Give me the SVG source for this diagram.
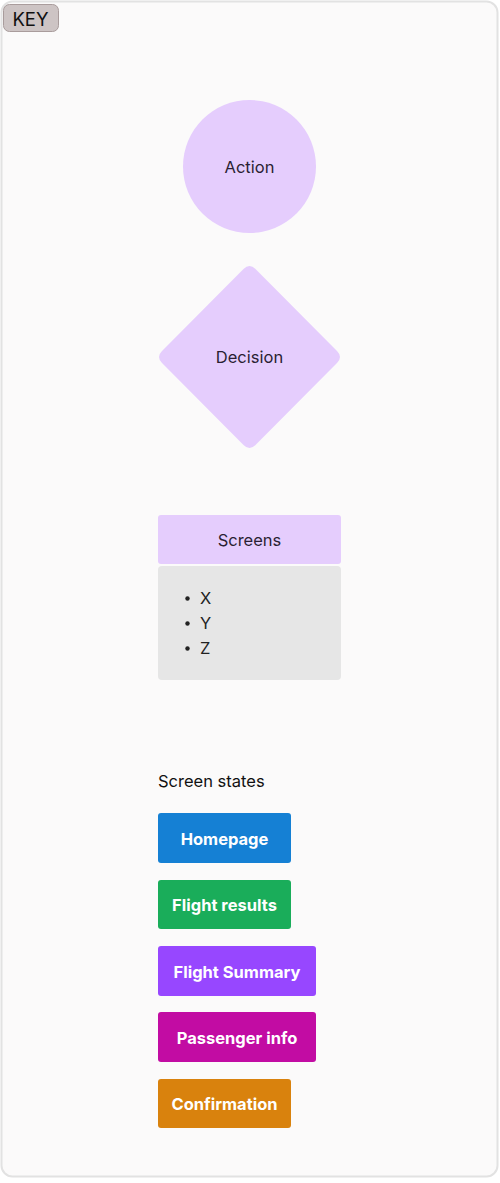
<svg xmlns="http://www.w3.org/2000/svg" width="500" height="1183" viewBox="0 0 500 1183">
<style>
.lbl{font-family:Inter,"Noto Sans",sans-serif;font-size:16.5px;fill:#2b1f33;text-anchor:middle;dominant-baseline:central}
.shape{fill:#e5cdfd}
.btn{font-family:Inter,"Noto Sans",sans-serif;font-size:16.5px;font-weight:700;fill:#ffffff;text-anchor:middle;dominant-baseline:central}
.li{font-family:Inter,"Noto Sans",sans-serif;font-size:16.5px;fill:#222222}
</style>
<rect x="1.5" y="1.5" width="496" height="1175" rx="11" fill="#fbfafa" stroke="#e2e2e2" stroke-width="2"/>
<g id="key">
<rect x="3.5" y="4.5" width="55" height="27" rx="6" fill="#cdc4c4" stroke="#a99c9c" stroke-width="1"/>
<text x="30.5" y="18.5" font-family="Inter,'Noto Sans',sans-serif" font-size="18.5" fill="#111" text-anchor="middle" dominant-baseline="central">KEY</text>
</g>
<g id="action">
<circle cx="249.5" cy="166.5" r="66.5" class="shape"/>
<text x="249.5" y="166.5" class="lbl">Action</text>
</g>
<g id="decision">
<path d="M243.5 269 Q249.5 263 255.5 269 L337 351 Q343 357 337 363 L255.5 445 Q249.5 451 243.5 445 L162 363 Q156 357 162 351 Z" class="shape"/>
<text x="249.5" y="357" class="lbl">Decision</text>
</g>
<g id="screens">
<rect x="158" y="515" width="183" height="49" rx="3" class="shape"/>
<text x="249.5" y="540" class="lbl">Screens</text>
<rect x="158" y="566" width="183" height="114" rx="4" fill="#e6e6e6"/>
<circle cx="187.5" cy="598.5" r="2.2" fill="#222"/>
<circle cx="187.5" cy="623.5" r="2.2" fill="#222"/>
<circle cx="187.5" cy="648.5" r="2.2" fill="#222"/>
<text x="200" y="604" class="li">X</text>
<text x="200" y="629" class="li">Y</text>
<text x="200" y="654" class="li">Z</text>
</g>
<g id="screen-states">
<text x="158" y="787" font-family="Inter,'Noto Sans',sans-serif" font-size="16.5" fill="#111">Screen states</text>
</g>
<g id="homepage">
<rect x="158" y="813" width="133" height="50" rx="3" fill="#1580d4"/>
<text x="224.5" y="838.5" class="btn">Homepage</text>
</g>
<g id="flight-results">
<rect x="158" y="880" width="133" height="49" rx="3" fill="#1aad5a"/>
<text x="224.5" y="905" class="btn">Flight results</text>
</g>
<g id="flight-summary">
<rect x="158" y="946" width="158" height="50" rx="3" fill="#9747ff"/>
<text x="237" y="971.5" class="btn">Flight Summary</text>
</g>
<g id="passenger-info">
<rect x="158" y="1012" width="158" height="50" rx="3" fill="#c20ca3"/>
<text x="237" y="1037.5" class="btn">Passenger info</text>
</g>
<g id="confirmation">
<rect x="158" y="1079" width="133" height="49" rx="3" fill="#d9820d"/>
<text x="224.5" y="1104" class="btn">Confirmation</text>
</g>
<g id="connectors"></g>
</svg>
